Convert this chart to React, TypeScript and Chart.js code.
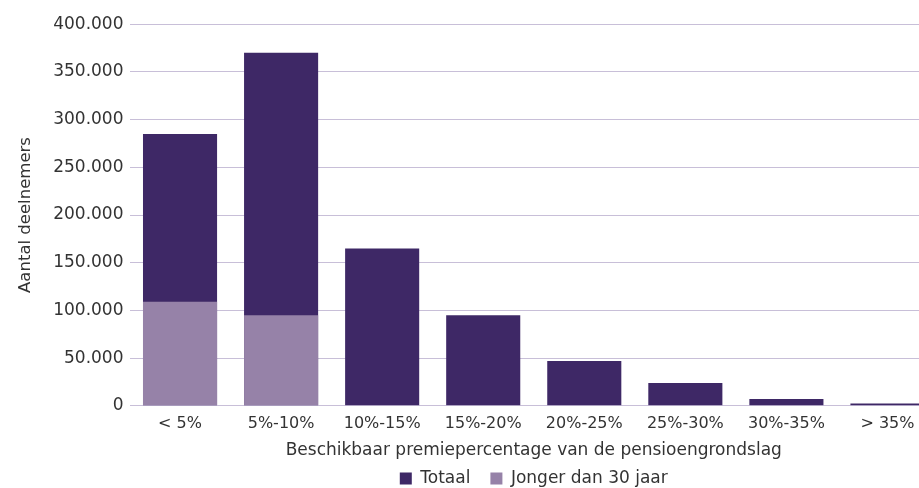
import React, { useEffect, useRef } from "react";
import { Chart, registerables } from "chart.js";

Chart.register(...registerables);

const categories = ["< 5%", "5%-10%", "10%-15%", "15%-20%", "20%-25%", "25%-30%", "30%-35%", "> 35%"];
const totaal = [285000, 370000, 165000, 95000, 47000, 24000, 7000, 2500];
const jonger = [109000, 95000, 0, 0, 0, 0, 0, 0];
const yTicks = [0, 50000, 100000, 150000, 200000, 250000, 300000, 350000, 400000];

const DARK = "#3e2866";
const LIGHT = "#9682a8";
const TEXT = "#333333";
const GRID = "#c8bfd8";
const FONT = "'DejaVu Sans', sans-serif";

const fmt = (v: number) => String(v).replace(/\B(?=(\d{3})+(?!\d))/g, ".");

const legendPlace = {
  id: "legendPlace",
  afterLayout(chart: any) {
    const lg = chart.legend;
    if (lg) {
      lg.left = chart.chartArea.left;
      lg.right = chart.chartArea.right;
      lg.top -= 11;
      lg.bottom -= 11;
      if (lg.adjustHitBoxes) lg.adjustHitBoxes();
    }
  },
};

export default function App() {
  const ref = useRef<HTMLCanvasElement>(null);
  useEffect(() => {
    if (!ref.current) return;
    const chart = new Chart(ref.current, {
      type: "bar",
      data: {
        labels: categories,
        datasets: [
          { label: "Totaal", data: totaal, backgroundColor: DARK, borderWidth: 0, order: 2 },
          { label: "Jonger dan 30 jaar", data: jonger, backgroundColor: LIGHT, borderWidth: 0, order: 1 },
        ],
      },
      plugins: [legendPlace],
      options: {
        animation: false,
        responsive: true,
        maintainAspectRatio: false,
        layout: { padding: { top: 14, right: 0, left: 0, bottom: 0 } },
        datasets: { bar: { barPercentage: 0.733, categoryPercentage: 1 } } as any,
        plugins: {
          tooltip: { enabled: false },
          legend: {
            position: "bottom",
            labels: {
              sort: (a: any, b: any) => a.datasetIndex - b.datasetIndex,
              boxWidth: 12,
              boxHeight: 12,
              color: TEXT,
              font: { family: FONT, size: 17 },
              padding: 20,
            },
          },
        },
        scales: {
          x: {
            stacked: true,
            grid: { display: false, drawTicks: true, tickLength: 8.4 },
            border: { display: false },
            ticks: { color: TEXT, font: { family: FONT, size: 16 }, padding: 0, maxRotation: 0, autoSkip: false },
            title: {
              display: true,
              text: "Beschikbaar premiepercentage van de pensioengrondslag",
              color: TEXT,
              font: { family: FONT, size: 17 },
              padding: { top: 7.2, bottom: 0 },
            },
          },
          y: {
            stacked: false,
            min: 0,
            max: 400000,
            afterFit: (s: any) => { s.width = 121.5; },
            afterBuildTicks: (s: any) => { s.ticks = yTicks.map((v) => ({ value: v })); },
            border: { display: false },
            grid: { color: GRID, lineWidth: 1, drawTicks: false },
            ticks: { color: TEXT, font: { family: FONT, size: 17 }, padding: 6, callback: (v: any) => fmt(Number(v)) },
            title: {
              display: true,
              text: "Aantal deelnemers",
              color: TEXT,
              font: { family: FONT, size: 16.5 },
              padding: { top: 8, bottom: 2 },
            },
          },
        },
      },
    });
    return () => chart.destroy();
  }, []);
  return (
    <>
      <style>{"body{margin:0}"}</style>
      <div style={{ width: 919, height: 488, overflow: "hidden", position: "relative", background: "#ffffff" }}>
        <div style={{ position: "absolute", left: 8, top: 8, width: 930, height: 500 }}>
          <canvas ref={ref} />
        </div>
      </div>
    </>
  );
}
